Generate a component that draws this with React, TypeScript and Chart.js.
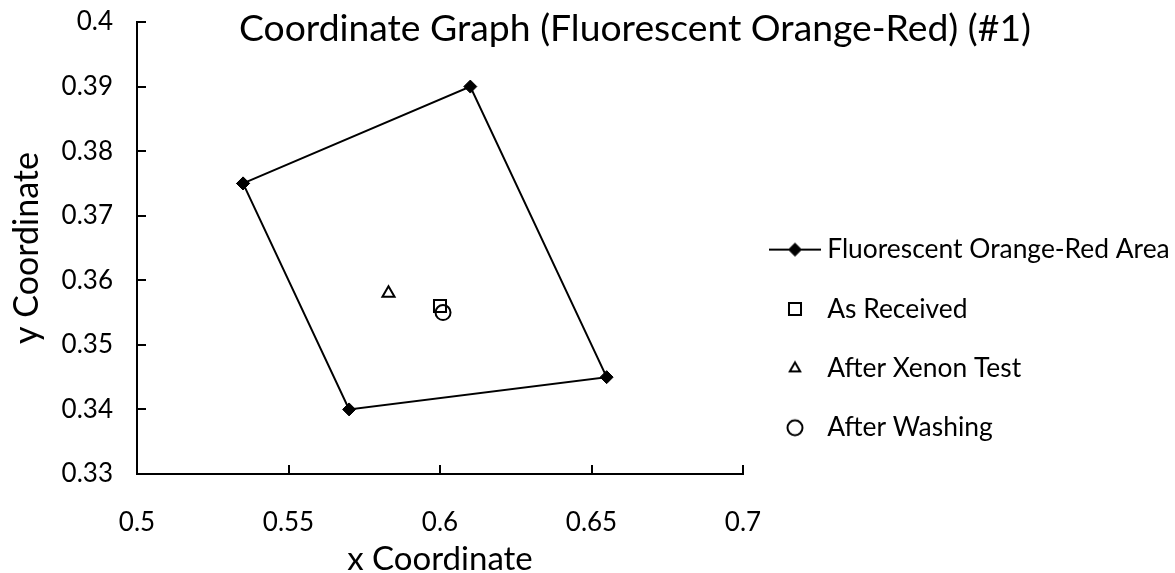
import React, { useEffect, useRef } from 'react';
import { Chart, registerables } from 'chart.js';
import { drawPoint } from 'chart.js/helpers';

Chart.register(...registerables);

// ---------- data ----------
const TITLE = 'Coordinate Graph (Fluorescent Orange-Red) (#1)';
const X_TITLE = 'x Coordinate';
const Y_TITLE = 'y Coordinate';

const seriesLabels = [
  'Fluorescent Orange-Red Area',
  'As Received',
  'After Xenon Test',
  'After Washing',
];

const areaX = [0.535, 0.61, 0.655, 0.57, 0.535];
const areaY = [0.375, 0.39, 0.345, 0.34, 0.375];
const receivedX = [0.6];
const receivedY = [0.356];
const xenonX = [0.583];
const xenonY = [0.358];
const washX = [0.601];
const washY = [0.355];

const xTicks = [0.5, 0.55, 0.6, 0.65, 0.7];
const xTickLabels = ['0.5', '0.55', '0.6', '0.65', '0.7'];
const yTicks = [0.33, 0.34, 0.35, 0.36, 0.37, 0.38, 0.39, 0.4];
const yTickLabels = ['0.33', '0.34', '0.35', '0.36', '0.37', '0.38', '0.39', '0.4'];

// ---------- styles ----------
const FONT = 'Lato';
const BLACK = '#000000';
const CLEAR = 'rgba(0,0,0,0)';
const W = 1175;
const H = 573;
const TICK_LEN = 9;
const TITLE_CENTER_X = 635;
const PLOT_LEFT = 137;
const PLOT_RIGHT = 743;
const PLOT_BOTTOM = 474;

type Marker = { style: string; radius: number; fill: string; border: number };
const markers: Marker[] = [
  { style: 'rectRot', radius: 6.5, fill: BLACK, border: 1 },
  { style: 'rect', radius: 8.5, fill: CLEAR, border: 2 },
  { style: 'triangle', radius: 7, fill: CLEAR, border: 2 },
  { style: 'circle', radius: 7.5, fill: CLEAR, border: 2 },
];

function pts(xs: number[], ys: number[]) {
  return xs.map((x, i) => ({ x, y: ys[i] }));
}

function makeIcon(i: number): HTMLCanvasElement {
  const c = document.createElement('canvas');
  c.width = 52;
  c.height = 20;
  const ctx = c.getContext('2d')!;
  ctx.strokeStyle = BLACK;
  if (i === 0) {
    ctx.lineWidth = 2;
    ctx.beginPath();
    ctx.moveTo(0, 10);
    ctx.lineTo(52, 10);
    ctx.stroke();
  }
  const m = markers[i];
  ctx.fillStyle = m.fill;
  ctx.lineWidth = m.border;
  drawPoint(ctx, { pointStyle: m.style as any, rotation: 0, radius: i === 2 ? 6 : m.radius, borderWidth: m.border }, 26, 10);
  return c;
}

const inwardTicks = {
  id: 'inwardTicks',
  afterDatasetsDraw(chart: any) {
    const { ctx, chartArea, scales } = chart;
    ctx.save();
    ctx.strokeStyle = BLACK;
    ctx.lineWidth = 2;
    const xs = scales.x;
    xs.ticks.forEach((t: any) => {
      const px = Math.round(xs.getPixelForValue(t.value));
      ctx.beginPath();
      ctx.moveTo(px, chartArea.bottom);
      ctx.lineTo(px, chartArea.bottom - TICK_LEN);
      ctx.stroke();
    });
    const ys = scales.y;
    ys.ticks.forEach((t: any) => {
      const py = Math.round(ys.getPixelForValue(t.value));
      ctx.beginPath();
      ctx.moveTo(chartArea.left, py);
      ctx.lineTo(chartArea.left + TICK_LEN, py);
      ctx.stroke();
    });
    ctx.restore();
  },
};

const titleShift = {
  id: 'titleShift',
  afterLayout(chart: any) {
    const t = chart.titleBlock;
    if (t) {
      t.left = 2 * TITLE_CENTER_X - chart.width;
      t.right = chart.width;
    }
  },
};

export default function App() {
  const ref = useRef<HTMLCanvasElement>(null);

  useEffect(() => {
    let chart: Chart | null = null;
    let cancelled = false;
    const build = () => {
      if (cancelled || !ref.current) return;
      const icons = seriesLabels.map((_, i) => makeIcon(i));
      const datasets: any[] = [
        { data: pts(areaX, areaY), showLine: true },
        { data: pts(receivedX, receivedY), showLine: false },
        { data: pts(xenonX, xenonY), showLine: false },
        { data: pts(washX, washY), showLine: false },
      ].map((d, i) => ({
        ...d,
        label: seriesLabels[i],
        borderColor: BLACK,
        borderWidth: 2,
        backgroundColor: markers[i].fill,
        pointStyle: markers[i].style,
        pointRadius: markers[i].radius,
        pointHoverRadius: markers[i].radius,
        pointBackgroundColor: markers[i].fill,
        pointBorderColor: BLACK,
        pointBorderWidth: markers[i].border,
        tension: 0,
        fill: false,
      }));

      chart = new Chart(ref.current, {
        type: 'scatter',
        data: { datasets },
        plugins: [inwardTicks, titleShift],
        options: {
          responsive: false,
          animation: false,
          events: [],
          layout: { padding: 0 },
          plugins: {
            tooltip: { enabled: false },
            title: {
              display: true,
              text: TITLE,
              color: BLACK,
              font: { family: FONT, size: 37.3, weight: 'normal' },
              padding: { top: 6.1, bottom: -28.86 },
            },
            legend: {
              display: true,
              position: 'right',
              align: 'end',
              fullSize: false,
              maxWidth: W - PLOT_RIGHT,
              labels: {
                usePointStyle: true,
                pointStyleWidth: 38,
                padding: 33,
                color: BLACK,
                font: { family: FONT, size: 26.4 },
                generateLabels: () =>
                  seriesLabels.map((text, i) => ({
                    text,
                    datasetIndex: i,
                    pointStyle: icons[i] as any,
                    fillStyle: CLEAR,
                    strokeStyle: CLEAR,
                    lineWidth: 0,
                    hidden: false,
                    fontColor: BLACK,
                  })),
              },
            },
          },
          scales: {
            x: {
              type: 'linear',
              position: 'bottom',
              min: 0.5,
              max: 0.7,
              afterBuildTicks: (s: any) => {
                s.ticks = xTicks.map((v) => ({ value: v }));
              },
              afterFit: (s: any) => {
                s.height = H - PLOT_BOTTOM;
                s.paddingLeft = 0;
                s.paddingRight = 0;
              },
              grid: { display: false, drawTicks: false },
              border: { display: true, color: BLACK, width: 2 },
              ticks: {
                color: BLACK,
                padding: 33,
                maxRotation: 0,
                autoSkip: false,
                font: { family: FONT, size: 26 },
                callback: (_v: any, i: number) => xTickLabels[i],
              },
              title: {
                display: true,
                text: X_TITLE,
                color: BLACK,
                font: { family: FONT, size: 33 },
                padding: { top: 0, bottom: -5.8 },
              },
            },
            y: {
              type: 'linear',
              position: 'left',
              min: 0.33,
              max: 0.4,
              afterBuildTicks: (s: any) => {
                s.ticks = yTicks.map((v) => ({ value: v }));
              },
              afterFit: (s: any) => {
                s.width = PLOT_LEFT;
                s.paddingTop = 0;
                s.paddingBottom = 0;
              },
              grid: { display: false, drawTicks: false },
              border: { display: true, color: BLACK, width: 2 },
              ticks: {
                color: BLACK,
                padding: 24,
                autoSkip: false,
                font: { family: FONT, size: 26 },
                callback: (_v: any, i: number) => yTickLabels[i],
              },
              title: {
                display: true,
                text: Y_TITLE,
                color: BLACK,
                font: { family: FONT, size: 34 },
                padding: { top: 7, bottom: 0 },
              },
            },
          },
        } as any,
      });
    };
    const fonts: any = (document as any).fonts;
    if (fonts && fonts.load) {
      Promise.all([fonts.load(`26px ${FONT}`), fonts.load(`34px ${FONT}`)]).then(build, build);
    } else {
      build();
    }
    return () => {
      cancelled = true;
      if (chart) chart.destroy();
    };
  }, []);

  return (
    <div style={{ position: 'fixed', left: 0, top: 0, width: W, height: H, background: '#fff' }}>
      <canvas ref={ref} width={W} height={H} style={{ display: 'block' }} />
    </div>
  );
}
